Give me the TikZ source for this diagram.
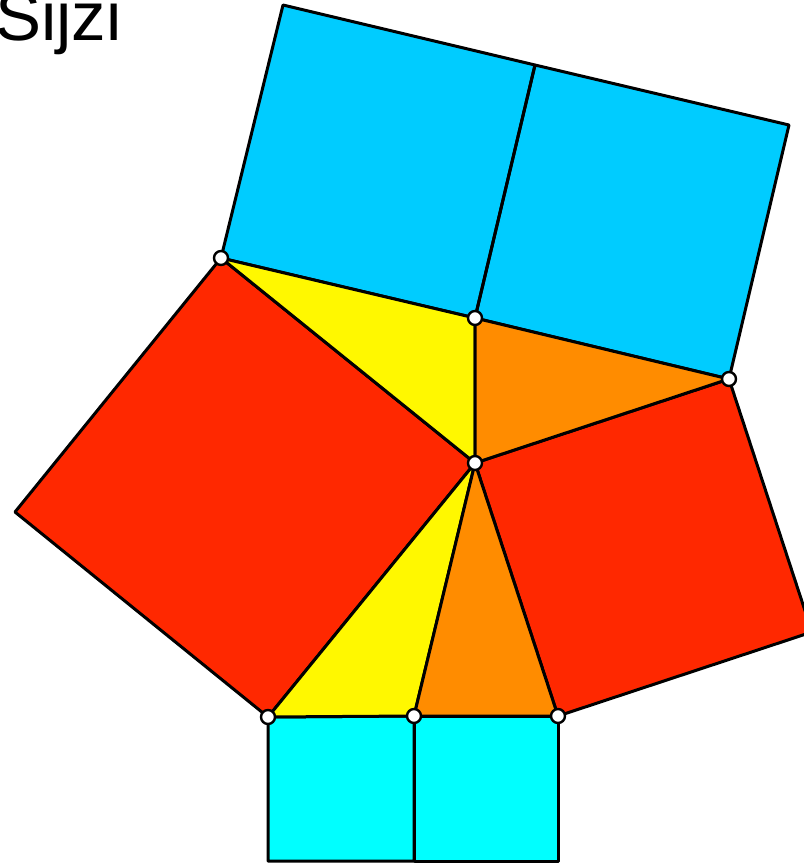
\documentclass[tikz,border=0pt]{standalone}
\usepackage{fontspec}
\setmainfont{Liberation Sans}
\definecolor{skyb}{RGB}{0,204,255}
\definecolor{cyn}{RGB}{0,255,255}
\definecolor{redd}{RGB}{255,40,0}
\definecolor{yel}{RGB}{255,248,0}
\definecolor{orng}{RGB}{255,140,0}
\tikzset{
  face/.style={draw=black,line width=3pt,line join=round},
  pt/.style={circle,draw=black,fill=white,line width=2.4pt,inner sep=0pt,minimum size=14pt},
}
\begin{document}
\begin{tikzpicture}[x=1pt,y=-1pt]
\useasboundingbox (0,0) rectangle (804,863);
\clip (0,0) rectangle (804,863);
\coordinate (A) at (221,258);
\coordinate (B) at (475,318);
\coordinate (C) at (729,379);
\coordinate (O) at (475,463);
\coordinate (D) at (268,717);
\coordinate (E) at (414,716);
\coordinate (F) at (558,716);
\coordinate (T1) at (283,5);
\coordinate (T2) at (535,65);
\coordinate (T3) at (789,125);
\coordinate (L) at (15,512);
\coordinate (R) at (812,632);
\coordinate (G1) at (268,861);
\coordinate (G2) at (414,861);
\coordinate (G3) at (558,861);
% squares
\fill[skyb] (A) -- (B) -- (T2) -- (T1) -- cycle;
\fill[skyb] (B) -- (C) -- (T3) -- (T2) -- cycle;
\draw[face] (A) -- (B) -- (T2) -- (T1) -- cycle;
\draw[face] (B) -- (C) -- (T3) -- (T2) -- cycle;
\draw[face,fill=redd] (A) -- (O) -- (D) -- (L) -- cycle;
\draw[face,fill=redd] (C) -- (O) -- (F) -- (R) -- cycle;
\draw[face,fill=cyn] (D) -- (E) -- (G2) -- (G1) -- cycle;
\draw[face,fill=cyn] (E) -- (F) -- (G3) -- (G2) -- cycle;
% triangles
\draw[face,fill=yel] (A) -- (B) -- (O) -- cycle;
\draw[face,fill=orng] (B) -- (C) -- (O) -- cycle;
\draw[face,fill=yel] (D) -- (E) -- (O) -- cycle;
\draw[face,fill=orng] (E) -- (F) -- (O) -- cycle;
% points
\foreach \p in {A,B,C,O,D,E,F} \node[pt] (n\p) at (\p) {};
\node[anchor=base west,inner sep=0pt,font=\fontsize{69}{69}\selectfont] (title) at (-5,40) {Sijzi};
\end{tikzpicture}
\end{document}
